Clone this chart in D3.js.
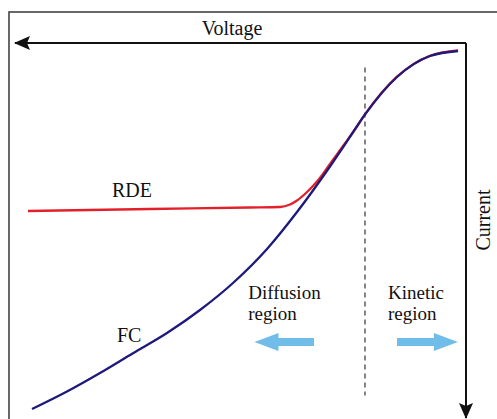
<!DOCTYPE html>
<html>
<head>
<meta charset="utf-8">
<script src="https://cdn.jsdelivr.net/npm/d3@7/dist/d3.min.js"></script>
<style>
  html, body { margin: 0; padding: 0; background: #fff; }
  svg { display: block; }
  text { font-family: "Liberation Serif", "Times New Roman", serif; fill: #111; }
</style>
</head>
<body>
<script>
// Polarization curves: voltage (arbitrary units, increasing to the left)
// against current (arbitrary units, increasing downward).
const fcVoltage  = [1.77, 7.98, 15.30, 22.39, 27.27, 30.16, 37.47, 44.12, 51.66, 58.98, 66.30, 73.84, 81.15, 88.47, 96.23];
const fcCurrent  = [2.13, 3.47, 9.07, 19.04, 27.84, 32.93, 45.07, 54.93, 64.00, 71.20, 77.33, 82.72, 88.00, 92.93, 97.60];

const rdeVoltage = [1.77, 7.98, 15.30, 22.39, 24.61, 27.27, 30.16, 33.04, 35.25, 37.47, 39.02, 41.24, 47.89, 70.07, 97.12];
const rdeCurrent = [2.00, 3.41, 8.99, 19.04, 23.07, 27.47, 32.27, 36.93, 39.73, 42.00, 43.07, 43.73, 43.87, 44.27, 44.80];

const seriesNames = ["FC", "RDE"];
const axisTitles = ["Voltage", "Current"];
const regionNames = [["Diffusion", "region"], ["Kinetic", "region"]];
const boundaryVoltage = 22.4;

const W = 497, H = 419;
const svg = d3.select("body").append("svg").attr("width", W).attr("height", H);

// Origin at the top-right corner: voltage grows leftward, current grows downward
const x = d3.scaleLinear().domain([0, 100]).range([466, 15]);
const y = d3.scaleLinear().domain([0, 100]).range([43, 418]);

// outer frame
svg.append("rect")
  .attr("x", 9).attr("y", 12).attr("width", 520).attr("height", 440)
  .attr("fill", "none").attr("stroke", "#444").attr("stroke-width", 1.6);

// arrowhead markers
const defs = svg.append("defs");
defs.append("marker")
  .attr("id", "head").attr("viewBox", "0 0 16 14")
  .attr("refX", 15).attr("refY", 7)
  .attr("markerWidth", 16).attr("markerHeight", 14)
  .attr("markerUnits", "userSpaceOnUse")
  .attr("orient", "auto")
  .append("path").attr("d", "M0,0 L16,7 L0,14 L3,7 Z").attr("fill", "#111");

// axes
svg.append("line")
  .attr("x1", x(0)).attr("y1", y(0)).attr("x2", x(100)).attr("y2", y(0))
  .attr("stroke", "#111").attr("stroke-width", 2).attr("marker-end", "url(#head)");
svg.append("line")
  .attr("x1", x(0)).attr("y1", y(0)).attr("x2", x(0)).attr("y2", y(100))
  .attr("stroke", "#111").attr("stroke-width", 2).attr("marker-end", "url(#head)");

svg.append("text")
  .attr("x", 232).attr("y", 35).attr("text-anchor", "middle")
  .attr("font-size", 20).text(axisTitles[0]);
svg.append("text")
  .attr("transform", "translate(490,220) rotate(-90)")
  .attr("text-anchor", "middle").attr("font-size", 20).text(axisTitles[1]);

// boundary between kinetic and diffusion control
svg.append("line")
  .attr("x1", x(boundaryVoltage)).attr("x2", x(boundaryVoltage))
  .attr("y1", y(6.5)).attr("y2", y(94))
  .attr("stroke", "#666").attr("stroke-width", 1.6).attr("stroke-dasharray", "5,4");

// curves
const line = d3.line()
  .x(d => x(d[0])).y(d => y(d[1]))
  .curve(d3.curveMonotoneX);

const toPts = (vs, cs) => vs.map((v, i) => [v, cs[i]]).sort((a, b) => b[0] - a[0]);

svg.append("path")
  .attr("d", line(toPts(rdeVoltage, rdeCurrent)))
  .attr("fill", "none").attr("stroke", "#e3202a").attr("stroke-width", 2.3);
svg.append("path")
  .attr("d", line(toPts(fcVoltage, fcCurrent)))
  .attr("fill", "none").attr("stroke", "#1d1a7c").attr("stroke-width", 2.3);

// series labels
svg.append("text").attr("x", x(78.5)).attr("y", y(41)).attr("font-size", 20).text(seriesNames[1]);
svg.append("text").attr("x", x(77.4)).attr("y", y(79.7)).attr("font-size", 20).text(seriesNames[0]);

// region labels, one text per line
const regionX = [x(48.3), x(17.3)];
regionNames.forEach((lines, i) => {
  lines.forEach((s, j) => {
    svg.append("text").attr("font-size", 19)
      .attr("x", regionX[i]).attr("y", y(68.3) + j * 21).text(s);
  });
});

// block arrows pointing away from the boundary
const arrowColor = "#71bde9";
function blockArrow(tail, tip, cy) {
  const dir = Math.sign(tip - tail), headLen = 24, hh = 9, sh = 4;
  const hb = tip - dir * headLen;
  const pts = [[tail, cy - sh], [hb, cy - sh], [hb, cy - hh], [tip, cy],
               [hb, cy + hh], [hb, cy + sh], [tail, cy + sh]];
  svg.append("polygon").attr("points", pts.map(p => p.join(",")).join(" "))
    .attr("fill", arrowColor);
}
blockArrow(x(33.7), x(46.9), y(79.7));
blockArrow(x(15.3), x(1.8), y(79.7));
</script>
</body>
</html>
